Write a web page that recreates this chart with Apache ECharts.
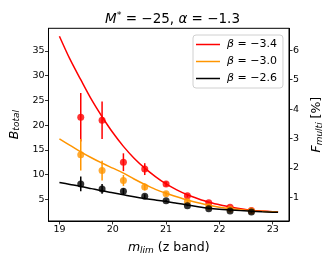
<!DOCTYPE html>
<html><head><meta charset="utf-8">
<script src="https://cdn.jsdelivr.net/npm/echarts@6/dist/echarts.min.js"></script>
<style>html,body{margin:0;padding:0;background:#fff}#c{width:332px;height:266px}</style>
</head><body><div id="c"></div>
<script>
const mLim = [19.4, 19.8, 20.2, 20.6, 21.0, 21.4, 21.8, 22.2, 22.6];
const bRed = [21.6, 21.0, 12.5, 11.1, 8.1, 5.7, 4.3, 3.4, 2.7];
const eRed = [4.9, 3.8, 1.8, 1.2, 0.5, 0.3, 0.2, 0.1, 0.1];
const bOrange = [14.0, 10.8, 8.8, 7.5, 6.1, 4.5, 3.5, 3.0, 2.6];
const eOrange = [3.2, 2.0, 1.1, 0.7, 0.4, 0.2, 0.1, 0.1, 0.1];
const bBlack = [8.1, 7.1, 6.6, 5.6, 4.7, 3.7, 3.1, 2.6, 2.4];
const eBlack = [1.5, 1.0, 0.6, 0.4, 0.2, 0.1, 0.1, 0.1, 0.1];
const curveX = [19.0, 19.2, 19.4, 19.6, 19.8, 20.0, 20.2, 20.4, 20.6, 20.8, 21.0, 21.2, 21.4, 21.6, 21.8, 22.0, 22.2, 22.4, 22.6, 22.8, 23.0, 23.1];
const curveRed = [38.0, 33.3, 29.2, 25.2, 21.7, 18.5, 15.7, 13.3, 11.3, 9.6, 8.1, 6.9, 5.9, 5.1, 4.4, 3.9, 3.45, 3.1, 2.8, 2.6, 2.45, 2.4];
const curveOrange = [17.2, 15.9, 14.6, 13.4, 12.3, 11.3, 10.3, 9.1, 8.0, 7.0, 6.2, 5.5, 4.85, 4.3, 3.8, 3.4, 3.1, 2.9, 2.7, 2.55, 2.45, 2.4];
const curveBlack = [8.4, 8.0, 7.6, 7.15, 6.7, 6.3, 5.9, 5.5, 5.15, 4.85, 4.55, 4.2, 3.85, 3.5, 3.2, 3.0, 2.85, 2.7, 2.55, 2.45, 2.38, 2.35];
const xTicks = [19, 20, 21, 22, 23];
const yTicks = [5, 10, 15, 20, 25, 30, 35];
const y2Ticks = [1, 2, 3, 4, 5, 6];
const betaNames = ['β = −3.4', 'β = −3.0', 'β = −2.6'];
const colors = ['#ff0000', '#ff9500', '#000000'];

const FONT = 'DejaVu Sans';
const chart = echarts.init(document.getElementById('c'), null, {renderer: 'canvas'});

function pairs(xs, ys) { return xs.map((x, i) => [x, ys[i]]); }
function errData(b, e) { return mLim.map((x, i) => [x, b[i] - e[i], b[i] + e[i]]); }

const groups = [
  [curveRed, bRed, eRed],
  [curveOrange, bOrange, eOrange],
  [curveBlack, bBlack, eBlack]
];
const series = [];
groups.forEach((g, k) => {
  const col = colors[k];
  series.push({
    name: betaNames[k], type: 'line', data: pairs(curveX, g[0]), smooth: 0.3,
    showSymbol: false, symbol: 'none', lineStyle: {color: col, width: 1.5}, itemStyle: {color: col},
    z: 2 + k * 3
  });
  series.push({
    name: 'err' + k, type: 'custom', data: errData(g[1], g[2]), z: 3 + k * 3,
    renderItem: function (params, api) {
      const p1 = api.coord([api.value(0), api.value(1)]);
      const p2 = api.coord([api.value(0), api.value(2)]);
      return {type: 'line', shape: {x1: p1[0], y1: p1[1], x2: p2[0], y2: p2[1]},
        style: {stroke: col, lineWidth: 1.5}};
    }
  });
  series.push({
    name: 'pts' + k, type: 'scatter', data: pairs(mLim, g[1]), symbol: 'circle', symbolSize: 7,
    itemStyle: {color: col}, z: 4 + k * 3
  });
});

const tickStyle = {show: true, inside: false, length: 3.5, lineStyle: {color: '#000', width: 0.8}};
const labStyle = {color: '#000', fontFamily: FONT, fontSize: 9.5};

chart.setOption({
  animation: false,
  backgroundColor: '#fff',
  title: {
    text: '{i|M}{sup|*}{n| = −25, }{i|α}{n| = −1.3}',
    left: 167.5, top: 6, textAlign: 'center',
    textStyle: {
      fontWeight: 'normal',
      rich: {
        i: {fontFamily: FONT, fontStyle: 'italic', fontWeight: 'normal', fontSize: 13.5, color: '#000'},
        sup: {fontFamily: FONT, fontWeight: 'normal', fontSize: 9.5, color: '#000', padding: [0, 0, 6, 0]},
        n: {fontFamily: FONT, fontWeight: 'normal', fontSize: 13.5, color: '#000'}
      }
    }
  },
  legend: {
    data: betaNames, orient: 'vertical', left: 193, top: 35,
    backgroundColor: '#fff', borderColor: '#d0d0d0', borderWidth: 1, borderRadius: 3,
    padding: [3, 6, 3, 3], itemGap: 4, itemWidth: 24, itemHeight: 1.5,
    icon: 'rect',
    formatter: function (name) { return '{i|β}{n|' + name.slice(1) + '}'; },
    textStyle: {
      fontFamily: FONT, fontSize: 11, color: '#000', lineHeight: 13, padding: [0, 0, 0, 2],
      rich: {
        i: {fontFamily: FONT, fontStyle: 'italic', fontSize: 11, color: '#000'},
        n: {fontFamily: FONT, fontSize: 11, color: '#000'}
      }
    }
  },
  grid: {left: 46, right: 40.3, top: 28.3, bottom: 45, show: true, borderColor: '#000', borderWidth: 1, containLabel: false},
  xAxis: {
    type: 'value', min: 18.795, max: 23.305,
    splitLine: {show: false},
    axisLine: {show: true, onZero: false, lineStyle: {color: '#000', width: 1}},
    axisTick: Object.assign({customValues: xTicks}, tickStyle),
    axisLabel: Object.assign({customValues: xTicks, margin: 4}, labStyle),
    name: '{i|m}{s|lim}{n| (z band)}', nameLocation: 'middle', nameGap: 20,
    nameTextStyle: {
      rich: {
        i: {fontFamily: FONT, fontStyle: 'italic', fontSize: 12.5, color: '#000'},
        s: {fontFamily: FONT, fontStyle: 'italic', fontSize: 9, color: '#000', padding: [5, 0, 0, 0]},
        n: {fontFamily: FONT, fontSize: 12.5, color: '#000'}
      }
    }
  },
  yAxis: [{
    type: 'value', min: 0.6, max: 39.6, position: 'left',
    splitLine: {show: false},
    axisLine: {show: true, onZero: false, lineStyle: {color: '#000', width: 1}},
    axisTick: Object.assign({customValues: yTicks}, tickStyle),
    axisLabel: Object.assign({customValues: yTicks, margin: 4}, labStyle),
    name: '{i|B}{s|total}', nameLocation: 'middle', nameGap: 22, nameRotate: 90,
    nameTextStyle: {
      rich: {
        i: {fontFamily: FONT, fontStyle: 'italic', fontSize: 12.5, color: '#000'},
        s: {fontFamily: FONT, fontStyle: 'italic', fontSize: 9, color: '#000', padding: [5, 0, 0, 0]}
      }
    }
  }, {
    type: 'value', min: 0.2, max: 6.74, position: 'right',
    splitLine: {show: false},
    axisLine: {show: true, onZero: false, lineStyle: {color: '#000', width: 1}},
    axisTick: Object.assign({customValues: y2Ticks}, tickStyle),
    axisLabel: Object.assign({customValues: y2Ticks, margin: 4}, labStyle),
    name: '{i|F}{s|multi}{n| [%]}', nameLocation: 'middle', nameGap: 21, nameRotate: 90,
    nameTextStyle: {
      rich: {
        i: {fontFamily: FONT, fontStyle: 'italic', fontSize: 12.5, color: '#000'},
        s: {fontFamily: FONT, fontStyle: 'italic', fontSize: 9, color: '#000', padding: [5, 0, 0, 0]},
        n: {fontFamily: FONT, fontSize: 12.5, color: '#000'}
      }
    }
  }],
  series: series
});
</script>
</body></html>
